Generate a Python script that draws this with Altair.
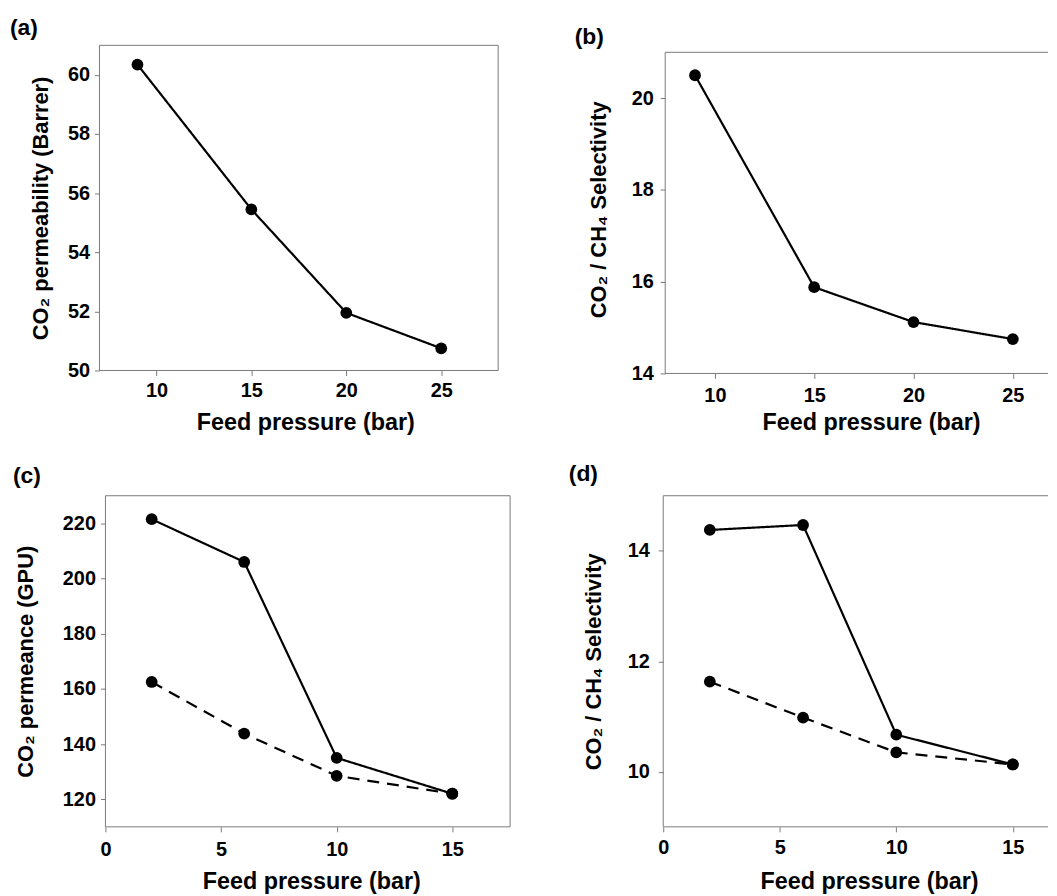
import altair as alt
import pandas as pd

FONT = "Liberation Sans"
GRAY = "#7a7a7a"

# ---- data ----
a_pressure = [9, 15, 20, 25]
a_permeability = [60.35, 55.45, 51.95, 50.75]

b_pressure = [9, 15, 20, 25]
b_selectivity = [20.5, 15.88, 15.12, 14.75]

cd_pressure = [2, 6, 10, 15]
c_solid = [221.5, 206.0, 135.0, 122.0]
c_dashed = [162.5, 143.8, 128.5, 122.0]
d_solid = [14.38, 14.47, 10.67, 10.13]
d_dashed = [11.63, 10.98, 10.35, 10.13]

a_xticks = [10, 15, 20, 25]
a_yticks = [50, 52, 54, 56, 58, 60]
b_xticks = [10, 15, 20, 25]
b_yticks = [14, 16, 18, 20]
c_xticks = [0, 5, 10, 15]
c_yticks = [120, 140, 160, 180, 200, 220]
d_xticks = [0, 5, 10, 15]
d_yticks = [10, 12, 14]

ONE = pd.DataFrame({"t": ["."]})


def hline(x0, x1, y):
    return alt.Chart(ONE).mark_rule(color=GRAY, strokeWidth=1).encode(
        x=alt.value(x0), x2=alt.value(x1), y=alt.value(y))


def vline(x, y0, y1):
    return alt.Chart(ONE).mark_rule(color=GRAY, strokeWidth=1).encode(
        x=alt.value(x), y=alt.value(y0), y2=alt.value(y1))


def make_panel(x_vals, series, xdom, xticks, ydom, yticks, ytitle, w, h,
               frame, right_side, label, label_xy, marker_xy, bottom_marker_y,
               lpx, tpx, lpy, tpy):
    fx0, fy0 = frame
    rows = []
    for name, ys in series:
        for xv, yv in zip(x_vals, ys):
            rows.append({"p": xv, "v": yv, "s": name})
    df = pd.DataFrame(rows)
    x = alt.X("p:Q", scale=alt.Scale(domain=xdom, nice=False, zero=False),
              axis=alt.Axis(values=xticks, title="Feed pressure (bar)",
                            labelPadding=lpx, titlePadding=tpx, titleX=fx0 + 207,
                            titleAlign="center", labelFlush=False,
                            labelOverlap=False, domain=False,
                            titleFontSize=23.5))
    y = alt.Y("v:Q", scale=alt.Scale(domain=ydom, nice=False, zero=False),
              axis=alt.Axis(values=yticks, title=ytitle, labelPadding=lpy,
                            titlePadding=tpy, labelOverlap=False, domain=False,
                            offset=-fx0, titleFontSize=22))
    dash = alt.StrokeDash("s:N",
                          scale=alt.Scale(domain=["solid", "dashed"],
                                          range=[[1, 0], [12, 8]]),
                          legend=None)
    lines = alt.Chart(df).mark_line(color="black", strokeWidth=2.2).encode(
        x=x, y=y, strokeDash=dash, detail="s:N")
    pts = alt.Chart(df).mark_circle(color="black", size=140, opacity=1).encode(
        x=x, y=y)
    lab = alt.Chart(pd.DataFrame({"t": [label]})).mark_text(
        align="left", baseline="top", fontSize=23, fontWeight="bold",
        font=FONT, color="black").encode(
        x=alt.value(label_xy[0]), y=alt.value(label_xy[1]), text="t:N")
    mk_top = alt.Chart(ONE).mark_text(
        align="left", baseline="top", fontSize=1, opacity=0).encode(
        x=alt.value(marker_xy[0]), y=alt.value(marker_xy[1]), text="t:N")
    layers = [lines, pts, lab, mk_top,
              hline(fx0, w, fy0), hline(fx0, w, h), vline(fx0, fy0, h)]
    if right_side:
        layers.append(vline(w, fy0, h))
    if bottom_marker_y is not None:
        layers.append(alt.Chart(ONE).mark_text(
            align="left", baseline="bottom", fontSize=1, opacity=0).encode(
            x=alt.value(0), y=alt.value(bottom_marker_y), text="t:N"))
    return alt.layer(*layers).properties(
        width=w, height=h, view=alt.ViewBackground(strokeOpacity=0))


# (a): view 401x327, frame = whole view
pa = make_panel(a_pressure, [("solid", a_permeability)], [7, 28], a_xticks,
                [50, 61], a_yticks, "CO\u2082 permeability (Barrer)", 401, 327,
                (0, 0), True, "(a)", (-90, -28), (-92, -35), 400,
                5, 10, 5, 15)
# (b): frame starts 7px below view top; right edge runs off the page
pb = make_panel(b_pressure, [("solid", b_selectivity)], [7.5, 26.77], b_xticks,
                [14, 21.152], b_yticks, "CO\u2082 / CH\u2084 Selectivity", 385, 330,
                (0, 7), False, "(b)", (-91, -19), (-94, -35), 400,
                7, 5, 7, 21)
# (c): frame starts 6px right of view left
pc = make_panel(cd_pressure, [("solid", c_solid), ("dashed", c_dashed)],
                [-0.258, 17.5], c_xticks, [110, 230], c_yticks,
                "CO\u2082 permeance (GPU)", 413, 333,
                (6, 0), True, "(c)", (-87, -31), (-92, -40), None,
                8, 10, 5, 25)
pd_ = make_panel(cd_pressure, [("solid", d_solid), ("dashed", d_dashed)],
                 [0, 16.51], d_xticks, [9, 15], d_yticks,
                 "CO\u2082 / CH\u2084 Selectivity", 387, 333,
                 (0, 0), False, "(d)", (-95, -33), (-97, -40), None,
                 6, 12, 9, 22)

chart = alt.vconcat(
    alt.hconcat(pa, pb, spacing=73),
    alt.hconcat(pc, pd_, spacing=56),
    spacing=13,
).properties(
    padding={"left": 0, "top": 0, "right": 0, "bottom": 0},
    background="white",
).configure_axis(
    labelFont=FONT, labelFontSize=20, labelFontWeight="bold", labelColor="black",
    titleFont=FONT, titleFontWeight="bold", titleColor="black",
    tickColor=GRAY, tickSize=5, tickWidth=1, grid=False,
).configure_view(strokeOpacity=0)

chart.save("out.html", embed_options={"renderer": "svg", "actions": False})
